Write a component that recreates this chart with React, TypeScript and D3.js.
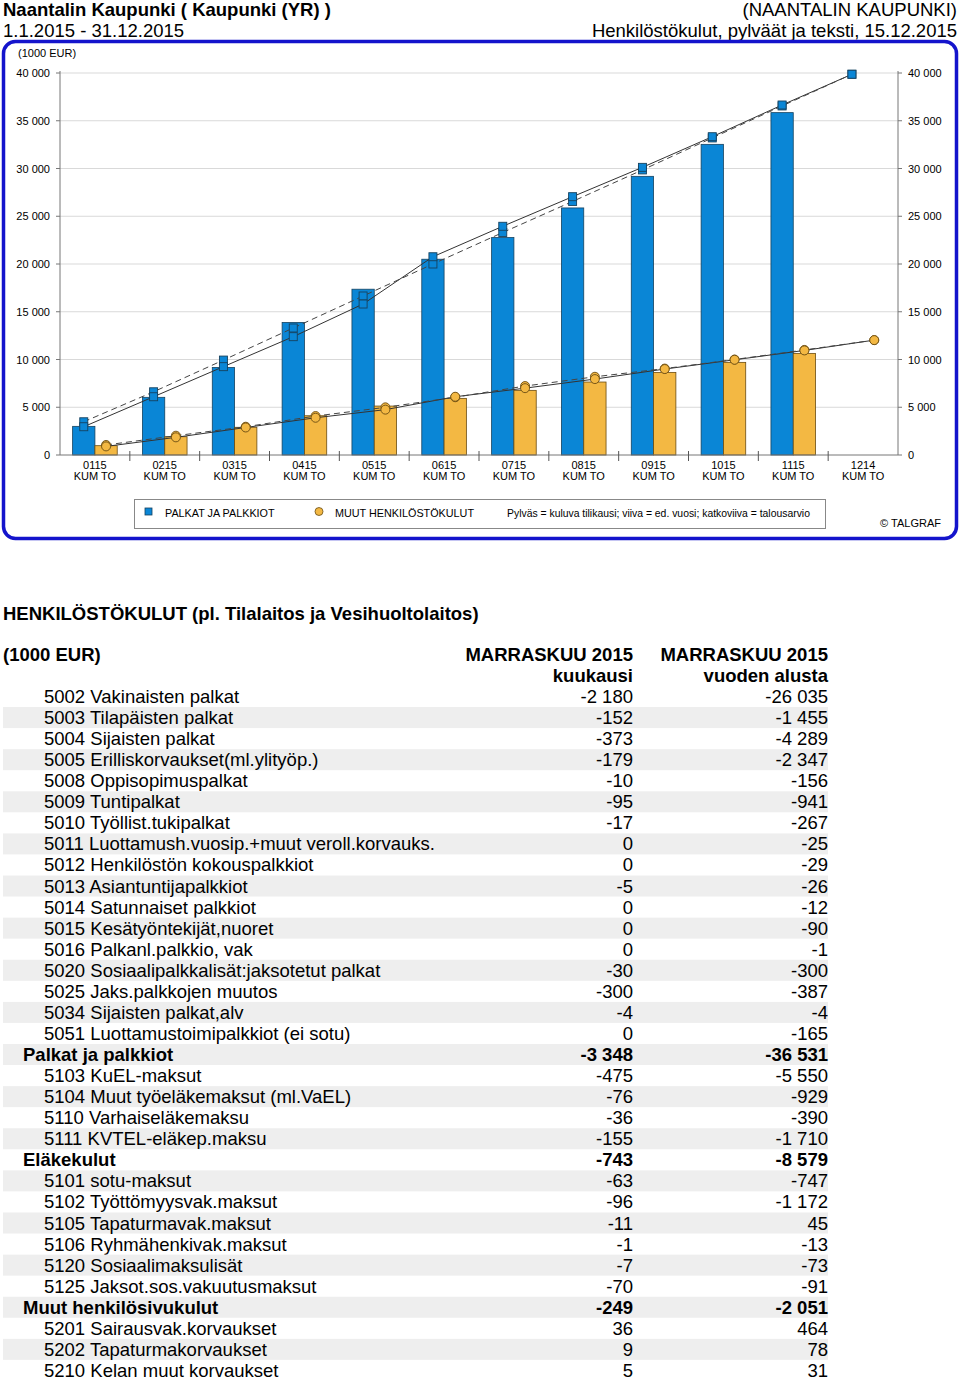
import React from "react";
import * as d3 from "d3";

const categories = ["0115", "0215", "0315", "0415", "0515", "0615", "0715", "0815", "0915", "1015", "1115", "1214"];
const palkatActual = [3000, 6040, 9170, 13880, 17360, 20500, 22770, 25870, 29180, 32530, 35850];
const palkatPrev = [2960, 6100, 9250, 12390, 15810, 20760, 23950, 27050, 30120, 33330, 36650, 39870];
const palkatBudget = [3480, 6620, 9940, 13300, 16650, 20000, 23300, 26550, 29850, 33200, 36550, 39870];
const muutActual = [975, 1915, 2900, 4110, 5125, 5930, 6770, 7640, 8650, 9700, 10640];
const muutPrev = [900, 1850, 2880, 3900, 4750, 6100, 7000, 7950, 9000, 9970, 10950, 12030];
const muutBudget = [1050, 2020, 2960, 4080, 4990, 6050, 7220, 8190, 9050, 10000, 11000, 12030];
const yTicks = [0, 5000, 10000, 15000, 20000, 25000, 30000, 35000, 40000];

const rowLabels = [
  "5002 Vakinaisten palkat", "5003 Tilapäisten palkat", "5004 Sijaisten palkat", "5005 Erilliskorvaukset(ml.ylityöp.)",
  "5008 Oppisopimuspalkat", "5009 Tuntipalkat", "5010 Työllist.tukipalkat", "5011 Luottamush.vuosip.+muut veroll.korvauks.",
  "5012 Henkilöstön kokouspalkkiot", "5013 Asiantuntijapalkkiot", "5014 Satunnaiset palkkiot", "5015 Kesätyöntekijät,nuoret",
  "5016 Palkanl.palkkio, vak", "5020 Sosiaalipalkkalisät:jaksotetut palkat", "5025 Jaks.palkkojen muutos", "5034 Sijaisten palkat,alv",
  "5051 Luottamustoimipalkkiot (ei sotu)", "Palkat ja palkkiot", "5103 KuEL-maksut", "5104 Muut työeläkemaksut (ml.VaEL)",
  "5110 Varhaiseläkemaksu", "5111 KVTEL-eläkep.maksu", "Eläkekulut", "5101 sotu-maksut", "5102 Työttömyysvak.maksut",
  "5105 Tapaturmavak.maksut", "5106 Ryhmähenkivak.maksut", "5120 Sosiaalimaksulisät", "5125 Jaksot.sos.vakuutusmaksut",
  "Muut henkilösivukulut", "5201 Sairausvak.korvaukset", "5202 Tapaturmakorvaukset", "5210 Kelan muut korvaukset",
];
const rowMonth = ["-2 180", "-152", "-373", "-179", "-10", "-95", "-17", "0", "0", "-5", "0", "0", "0", "-30", "-300", "-4", "0", "-3 348",
  "-475", "-76", "-36", "-155", "-743", "-63", "-96", "-11", "-1", "-7", "-70", "-249", "36", "9", "5"];
const rowYear = ["-26 035", "-1 455", "-4 289", "-2 347", "-156", "-941", "-267", "-25", "-29", "-26", "-12", "-90", "-1", "-300", "-387", "-4",
  "-165", "-36 531", "-5 550", "-929", "-390", "-1 710", "-8 579", "-747", "-1 172", "45", "-13", "-73", "-91", "-2 051", "464", "78", "31"];
const subtotalRows = ["Palkat ja palkkiot", "Eläkekulut", "Muut henkilösivukulut"];

const FONT = "'Liberation Sans', Arial, sans-serif";
const BLUE = "#0A86D6";
const BLUE_STROKE = "#16425f";
const ORANGE = "#F3B843";
const ORANGE_STROKE = "#6a4c12";
const FS = 18.5;

const fmt = (v: number) => d3.format(",")(v).replace(/,/g, " ");

export default function App() {
  const x = d3.scaleBand<string>().domain(categories).range([60, 898]).padding(0);
  const y = d3.scaleLinear().domain([0, 40000]).range([455, 73]);
  const bw = 22.3;
  const cx = (c: string) => (x(c) as number) + x.bandwidth() / 2;
  const bx = (i: number) => cx(categories[i]) - bw / 2;
  const ox = (i: number) => cx(categories[i]) + bw / 2;
  const lineB = d3.line<number>().x((_, i) => bx(i)).y((v) => y(v));
  const lineO = d3.line<number>().x((_, i) => ox(i)).y((v) => y(v));

  const rowY0 = 703;
  const rowH = 21.06;

  return (
    <svg width={960} height={1384} style={{ position: "absolute", left: 0, top: 0 }} fontFamily={FONT}>
      <rect x={0} y={0} width={960} height={1384} fill="#fff" />
      {/* header */}
      <text x={3} y={16} fontSize={FS} fontWeight="bold">Naantalin Kaupunki ( Kaupunki (YR) )</text>
      <text x={3} y={37} fontSize={FS}>1.1.2015 - 31.12.2015</text>
      <text x={957} y={16} fontSize={FS} textAnchor="end">(NAANTALIN KAUPUNKI)</text>
      <text x={957} y={37} fontSize={FS} textAnchor="end">Henkilöstökulut, pylväät ja teksti, 15.12.2015</text>

      {/* frame */}
      <rect x={3.5} y={41.5} width={953} height={497} rx={12} ry={12} fill="none" stroke="#1414CC" strokeWidth={3.5} />

      <text x={18} y={57} fontSize={11}>(1000 EUR)</text>

      {/* gridlines & y axes */}
      {yTicks.map((t) => (
        <g key={t}>
          {t > 0 && <line x1={60} x2={898} y1={y(t)} y2={y(t)} stroke="#d9d9d9" strokeWidth={1} />}
          <line x1={56} x2={60} y1={y(t)} y2={y(t)} stroke="#777" />
          <line x1={898} x2={902} y1={y(t)} y2={y(t)} stroke="#777" />
          <text x={50} y={y(t) + 4} fontSize={11} textAnchor="end">{fmt(t)}</text>
          <text x={908} y={y(t) + 4} fontSize={11}>{fmt(t)}</text>
        </g>
      ))}
      <line x1={60} x2={60} y1={y(40000) - 2} y2={455} stroke="#777" />
      <line x1={898} x2={898} y1={y(40000) - 2} y2={455} stroke="#777" />

      {/* bars */}
      {palkatActual.map((v, i) => (
        <rect key={"b" + i} x={bx(i) - bw / 2} y={y(v)} width={bw} height={y(0) - y(v)} fill={BLUE} stroke={BLUE_STROKE} strokeWidth={0.8} />
      ))}
      {muutActual.map((v, i) => (
        <rect key={"o" + i} x={ox(i) - bw / 2} y={y(v)} width={bw} height={y(0) - y(v)} fill={ORANGE} stroke={ORANGE_STROKE} strokeWidth={0.8} />
      ))}

      {/* x axis */}
      <line x1={60} x2={898} y1={455} y2={455} stroke="#777" />
      {categories.map((c, i) => (
        <g key={c}>
          {i > 0 && <line x1={x(c) as number} x2={x(c) as number} y1={451} y2={461} stroke="#555" />}
          <text x={cx(c)} y={469} fontSize={11} textAnchor="middle">{c}</text>
          <text x={cx(c)} y={480} fontSize={11} textAnchor="middle">KUM TO</text>
        </g>
      ))}

      {/* lines */}
      <path d={lineB(palkatPrev) as string} fill="none" stroke="#333" strokeWidth={1} />
      <path d={lineB(palkatBudget) as string} fill="none" stroke="#444" strokeWidth={1} strokeDasharray="6,4" />
      <path d={lineO(muutPrev) as string} fill="none" stroke="#333" strokeWidth={1} />
      <path d={lineO(muutBudget) as string} fill="none" stroke="#444" strokeWidth={1} strokeDasharray="6,4" />

      {/* markers */}
      {palkatBudget.map((v, i) => (
        <rect key={"bb" + i} x={bx(i) - 4} y={y(v) - 4} width={8} height={8} fill={BLUE} stroke={BLUE_STROKE} strokeWidth={0.9} />
      ))}
      {palkatPrev.map((v, i) => (
        <rect key={"bp" + i} x={bx(i) - 4} y={y(v) - 4} width={8} height={8} fill={BLUE} stroke={BLUE_STROKE} strokeWidth={0.9} />
      ))}
      {muutBudget.map((v, i) => (
        <circle key={"ob" + i} cx={ox(i)} cy={y(v)} r={4.5} fill={ORANGE} stroke={ORANGE_STROKE} strokeWidth={0.9} />
      ))}
      {muutPrev.map((v, i) => (
        <circle key={"op" + i} cx={ox(i)} cy={y(v)} r={4.5} fill={ORANGE} stroke={ORANGE_STROKE} strokeWidth={0.9} />
      ))}

      {/* legend */}
      <rect x={134.5} y={499.5} width={691} height={29} fill="#fff" stroke="#888" strokeWidth={1} />
      <rect x={145} y={508} width={7} height={7} fill={BLUE} stroke={BLUE_STROKE} strokeWidth={0.8} />
      <text x={165} y={517} fontSize={10.8}>PALKAT JA PALKKIOT</text>
      <circle cx={319} cy={511.5} r={4} fill={ORANGE} stroke={ORANGE_STROKE} strokeWidth={0.8} />
      <text x={335} y={517} fontSize={10.8}>MUUT HENKILÖSTÖKULUT</text>
      <text x={507} y={517} fontSize={10.4}>Pylväs = kuluva tilikausi; viiva = ed. vuosi; katkoviiva = talousarvio</text>
      <text x={941} y={527} fontSize={11} textAnchor="end">© TALGRAF</text>

      {/* table */}
      <text x={3} y={620} fontSize={FS} fontWeight="bold">HENKILÖSTÖKULUT (pl. Tilalaitos ja Vesihuoltolaitos)</text>
      <text x={3} y={661} fontSize={FS} fontWeight="bold">(1000 EUR)</text>
      <text x={633} y={661} fontSize={FS} fontWeight="bold" textAnchor="end">MARRASKUU 2015</text>
      <text x={828} y={661} fontSize={FS} fontWeight="bold" textAnchor="end">MARRASKUU 2015</text>
      <text x={633} y={682} fontSize={FS} fontWeight="bold" textAnchor="end">kuukausi</text>
      <text x={828} y={682} fontSize={FS} fontWeight="bold" textAnchor="end">vuoden alusta</text>
      {rowLabels.map((lab, i) => {
        const by = rowY0 + i * rowH;
        const sub = subtotalRows.includes(lab);
        return (
          <g key={lab}>
            {i % 2 === 1 && <rect x={3} y={by - 17} width={825} height={21} fill="#eeeeee" />}
            <text x={sub ? 23 : 44} y={by} fontSize={FS} fontWeight={sub ? "bold" : "normal"}>{lab}</text>
            <text x={633} y={by} fontSize={FS} fontWeight={sub ? "bold" : "normal"} textAnchor="end">{rowMonth[i]}</text>
            <text x={828} y={by} fontSize={FS} fontWeight={sub ? "bold" : "normal"} textAnchor="end">{rowYear[i]}</text>
          </g>
        );
      })}
    </svg>
  );
}
